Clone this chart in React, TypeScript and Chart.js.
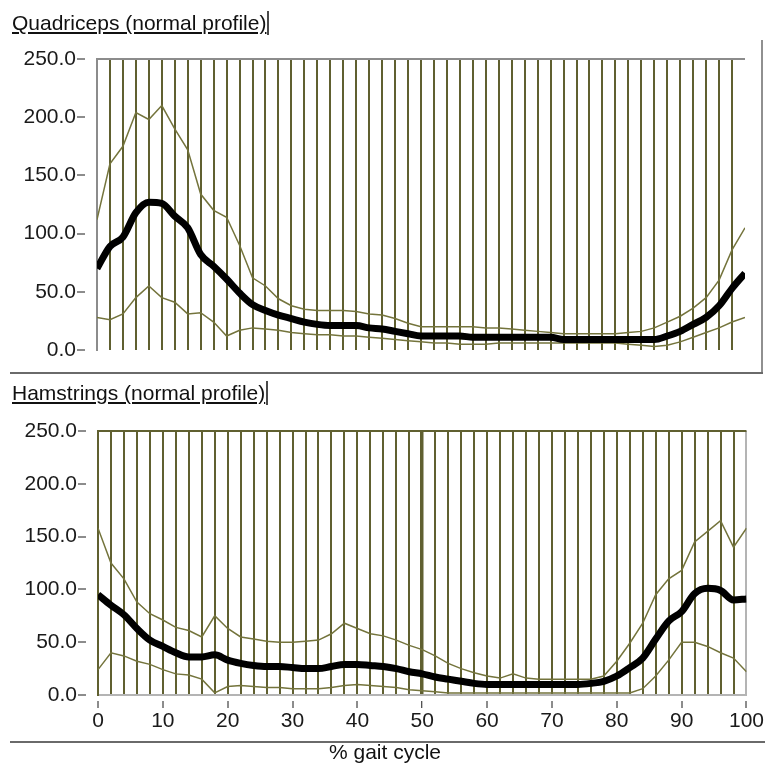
import { useEffect, useRef } from "react";
import { Chart, registerables } from "chart.js";

Chart.register(...registerables);

// % of gait cycle, sampled every 2 %
const gaitPct = [
  0, 2, 4, 6, 8, 10, 12, 14, 16, 18, 20, 22, 24, 26, 28, 30, 32, 34, 36, 38, 40,
  42, 44, 46, 48, 50, 52, 54, 56, 58, 60, 62, 64, 66, 68, 70, 72, 74, 76, 78, 80,
  82, 84, 86, 88, 90, 92, 94, 96, 98, 100,
];

// Quadriceps EMG envelope (normal profile)
const quadMean = [
  70, 89, 97, 118, 127, 126, 115, 105, 82, 72, 61, 49, 39, 34, 30, 27, 24, 22, 21, 21, 21,
  19, 18, 16, 14, 12, 12, 12, 12, 11, 11, 11, 11, 11, 11, 11, 9, 9, 9, 9, 9,
  9, 9, 9, 12, 16, 22, 28, 38, 53, 66,
];
const quadUpper = [
  112, 160, 175, 204, 198, 210, 190, 172, 134, 120, 114, 90, 62, 55, 44, 38, 35, 34, 34, 34, 33,
  31, 30, 27, 23, 20, 20, 20, 20, 20, 19, 19, 18, 17, 16, 15, 14, 14, 14, 14, 14,
  15, 16, 19, 24, 29, 36, 45, 60, 86, 105,
];
const quadLower = [
  28, 26, 31, 45, 55, 45, 41, 31, 32, 24, 12, 17, 19, 18, 17, 15, 14, 13, 13, 12, 12,
  11, 10, 9, 8, 7, 6, 6, 5, 5, 5, 6, 6, 6, 6, 6, 6, 6, 6, 6, 6,
  5, 4, 3, 4, 7, 11, 15, 19, 24, 28,
];

// Hamstrings EMG envelope (normal profile)
const hamMean = [
  95, 85, 76, 63, 52, 46, 40, 36, 36, 38, 33, 30, 28, 27, 27, 26, 25, 25, 27, 29, 29,
  28, 27, 25, 22, 20, 17, 15, 13, 11, 10, 10, 10, 10, 10, 10, 10, 10, 11, 13, 18,
  26, 35, 53, 70, 79, 96, 101, 99, 90, 91,
];
const hamUpper = [
  158, 125, 110, 88, 77, 71, 64, 61, 55, 75, 63, 55, 53, 51, 50, 50, 51, 52, 58, 68, 63,
  58, 56, 52, 47, 43, 37, 30, 25, 21, 18, 16, 20, 16, 15, 15, 15, 15, 15, 18, 32,
  49, 68, 95, 110, 118, 145, 155, 165, 140, 158,
];
const hamLower = [
  24, 40, 37, 32, 29, 24, 20, 19, 15, 2, 8, 9, 8, 7, 7, 6, 6, 6, 7, 9, 10,
  9, 8, 7, 5, 4, 3, 2, 2, 2, 2, 2, 2, 2, 2, 2, 2, 2, 2, 2, 2,
  2, 6, 18, 33, 50, 50, 46, 40, 35, 22,
];

const Y_MAX = 250;
const Y_STEP = 50;
const X_GRID_STEP = 2;
const X_LABEL_STEP = 10;

const FONT_FAMILY = "'Liberation Sans', Arial, Helvetica, sans-serif";
const TEXT = "#1a1a1a";
const OLIVE = "#606030";
const BAND = "#74743c";
const FRAME_GREY = "#8c8c8c";
const LIGHT_GREY = "#b4b4b4";

type PanelSpec = {
  mean: number[];
  upper: number[];
  lower: number[];
  padding: { top: number; right: number; bottom: number; left: number };
  yWidth: number;
  xHeight: number;
  showX: boolean;
  leftFrame: string;
  topLine: string;
  gridColor: (v: number) => string;
  gridWidth: (v: number) => number;
};

const toPoints = (values: number[]) => gaitPct.map((x, i) => ({ x, y: values[i] }));

function buildChart(canvas: HTMLCanvasElement, spec: PanelSpec) {
  const font = { family: FONT_FAMILY, size: 21 };
  return new Chart(canvas, {
    type: "line",
    data: {
      datasets: [
        {
          data: toPoints(spec.mean),
          borderColor: "#000000",
          borderWidth: 7,
          pointRadius: 0,
          cubicInterpolationMode: "monotone",
        },
        { data: toPoints(spec.upper), borderColor: BAND, borderWidth: 1.5, pointRadius: 0 },
        { data: toPoints(spec.lower), borderColor: BAND, borderWidth: 1.5, pointRadius: 0 },
      ],
    },
    options: {
      responsive: false,
      animation: false,
      devicePixelRatio: 1,
      events: [],
      layout: { padding: spec.padding },
      plugins: {
        legend: { display: false },
        tooltip: { enabled: false },
        title: { display: false },
      },
      scales: {
        x: {
          type: "linear",
          min: 0,
          max: 100,
          afterFit: (s: any) => {
            s.height = spec.xHeight;
          },
          border: { display: spec.showX, color: LIGHT_GREY, width: 2 },
          grid: {
            drawOnChartArea: true,
            drawTicks: spec.showX,
            color: (ctx: any) => spec.gridColor(ctx.tick ? ctx.tick.value : -1),
            lineWidth: (ctx: any) => spec.gridWidth(ctx.tick ? ctx.tick.value : -1),
            tickLength: 13,
            tickWidth: 1,
            tickColor: (ctx: any) =>
              ctx.tick && ctx.tick.value % X_LABEL_STEP === 0 ? TEXT : "rgba(0,0,0,0)",
            tickBorderDash: [8, 5],
            tickBorderDashOffset: 8,
          },
          ticks: {
            display: spec.showX,
            stepSize: X_GRID_STEP,
            autoSkip: false,
            maxRotation: 0,
            padding: 1,
            font,
            color: TEXT,
            callback: (v: any) => (Number(v) % X_LABEL_STEP === 0 ? String(v) : ""),
          },
        },
        y: {
          min: 0,
          max: Y_MAX,
          afterFit: (s: any) => {
            s.width = spec.yWidth;
          },
          border: { color: spec.leftFrame, width: 2 },
          grid: {
            drawOnChartArea: true,
            color: (ctx: any) =>
              ctx.tick && ctx.tick.value === Y_MAX ? spec.topLine : "rgba(0,0,0,0)",
            lineWidth: 2,
            tickLength: 20,
            tickWidth: 1,
            tickColor: TEXT,
            tickBorderDash: [8, 12],
          },
          ticks: {
            stepSize: Y_STEP,
            padding: 1,
            font,
            color: TEXT,
            callback: (v: any) => Number(v).toFixed(1),
          },
        },
      },
    } as any,
  });
}

const quadSpec: PanelSpec = {
  mean: quadMean,
  upper: quadUpper,
  lower: quadLower,
  padding: { top: 59, right: 20, bottom: 22, left: 0 },
  yWidth: 97,
  xHeight: 0,
  showX: false,
  leftFrame: FRAME_GREY,
  topLine: FRAME_GREY,
  gridColor: (v) => (v <= 0 || v >= 100 ? "rgba(0,0,0,0)" : OLIVE),
  gridWidth: () => 2,
};

const hamSpec: PanelSpec = {
  mean: hamMean,
  upper: hamUpper,
  lower: hamLower,
  padding: { top: 51, right: 18, bottom: 7, left: 0 },
  yWidth: 98,
  xHeight: 40,
  showX: true,
  leftFrame: OLIVE,
  topLine: OLIVE,
  gridColor: (v) => (v >= 100 ? LIGHT_GREY : OLIVE),
  gridWidth: (v) => (v === 50 ? 3.5 : 2),
};

const titleStyle = (top: number): React.CSSProperties => ({
  position: "absolute",
  left: 12,
  top,
  fontSize: 21,
  lineHeight: "24px",
  color: "#111",
  textDecoration: "underline",
  textUnderlineOffset: "2px",
  borderRight: "2px solid #4a4a4a",
  paddingRight: 1,
  whiteSpace: "nowrap",
});

export default function App() {
  const topRef = useRef<HTMLCanvasElement>(null);
  const bottomRef = useRef<HTMLCanvasElement>(null);

  useEffect(() => {
    const quad = buildChart(topRef.current!, quadSpec);
    const ham = buildChart(bottomRef.current!, hamSpec);
    return () => {
      quad.destroy();
      ham.destroy();
    };
  }, []);

  return (
    <div
      style={{
        position: "absolute",
        left: 0,
        top: 0,
        width: 765,
        height: 767,
        background: "#ffffff",
        fontFamily: FONT_FAMILY,
        overflow: "hidden",
      }}
    >
      <canvas
        ref={topRef}
        width={765}
        height={372}
        style={{ position: "absolute", left: 0, top: 0, width: 765, height: 372 }}
      />
      <canvas
        ref={bottomRef}
        width={765}
        height={362}
        style={{ position: "absolute", left: 0, top: 380, width: 765, height: 362 }}
      />
      <span style={titleStyle(11)}>Quadriceps (normal profile)</span>
      <span style={titleStyle(381)}>Hamstrings (normal profile)</span>
      {/* panel separators */}
      <div style={{ position: "absolute", left: 761, top: 40, width: 2, height: 334, background: "#909090" }} />
      <div style={{ position: "absolute", left: 10, top: 372, width: 753, height: 2, background: "#6a6a6a" }} />
      <div style={{ position: "absolute", left: 10, top: 741, width: 755, height: 2, background: "#6a6a6a" }} />
      <div
        style={{
          position: "absolute",
          left: 0,
          top: 740,
          width: 770,
          fontSize: 21,
          lineHeight: "24px",
          textAlign: "center",
          color: "#111",
        }}
      >
        % gait cycle
      </div>
    </div>
  );
}
